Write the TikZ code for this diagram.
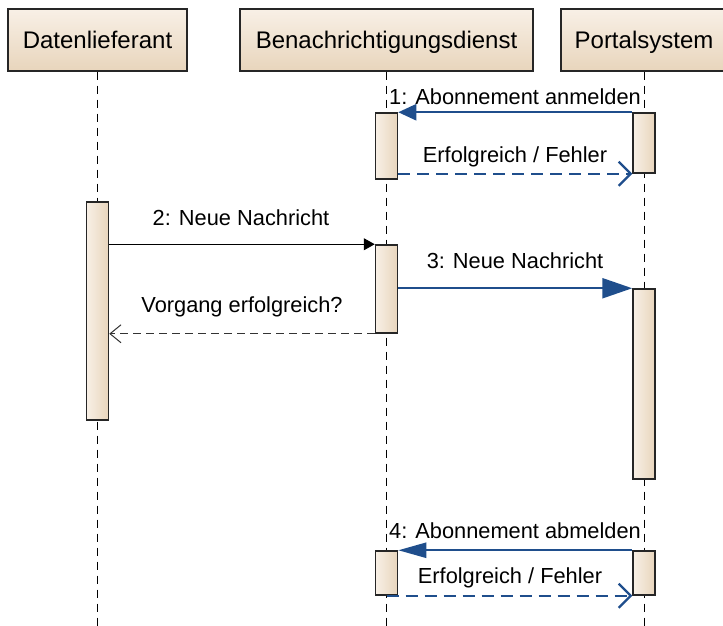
\documentclass[tikz,border=0pt]{standalone}
\usepackage{fontspec}
\setmainfont{Liberation Sans}
\usetikzlibrary{arrows.meta}

\definecolor{msgblue}{HTML}{1F4E8C}
\definecolor{boxlight}{HTML}{F8F0E6}
\definecolor{boxdark}{HTML}{E8D5BC}
\definecolor{boxline}{HTML}{262626}

\begin{document}
\begin{tikzpicture}[x=1pt,y=-1pt,
  actor/.style={draw=boxline, line width=1.3pt, top color=boxlight, bottom color=boxdark,
    minimum height=62pt, inner sep=0pt, font=\fontsize{24}{28}\selectfont,
    text height=17.2pt, text depth=0pt},
  activation/.style={draw=boxline, line width=1.5pt, left color=boxlight, right color=boxdark,
    minimum width=22pt, inner sep=0pt},
  lifeline/.style={line width=1pt, dash pattern=on 8pt off 6pt},
  msglabel/.style={anchor=base, inner sep=0pt, font=\fontsize{21.8}{26}\selectfont},
  callblue/.style={draw=msgblue, line width=2.4pt},
  replyblue/.style={draw=msgblue, line width=2.2pt, dash pattern=on 12pt off 7pt,
    -{Straight Barb[length=12pt,width=24pt,line width=2.2pt]}},
  callblack/.style={line width=1pt, -{Triangle[length=11pt,width=12pt]}},
  replyblack/.style={line width=1pt, draw=black!80, dash pattern=on 8pt off 5pt,
    -{Straight Barb[length=11pt,width=18pt,line width=1pt]}}
]
\useasboundingbox (0,0) rectangle (723,626);
\clip (0,0) rectangle (723,626);
\coordinate (bottom) at (0,626);

% participants
\node[actor, minimum width=179pt] (dl) at (97.5,40) {Datenlieferant};
\node[actor, minimum width=293pt] (bn) at (386.5,40) {Benachrichtigungsdienst};
\node[actor, minimum width=166pt] (ps) at (644,40) {Portalsystem};

% lifelines
\draw[lifeline] (dl.south) -- (dl.south |- bottom);
\draw[lifeline] (bn.south) -- (bn.south |- bottom);
\draw[lifeline] (ps.south) -- (ps.south |- bottom);

% activation bars
\node[activation, minimum height=66pt]  (bn1) at (386.5,146) {};
\node[activation, minimum height=60pt]  (ps1) at (644,143) {};
\node[activation, minimum height=218pt] (dlbar) at (97.5,311) {};
\node[activation, minimum height=88pt]  (bn2) at (386.5,289) {};
\node[activation, minimum height=190pt] (ps2) at (644,384) {};
\node[activation, minimum height=44pt]  (bn3) at (386.5,573) {};
\node[activation, minimum height=44pt]  (ps3) at (644,573) {};

% 1: subscribe
\draw[callblue, -{Triangle[length=18pt,width=16pt]}] (ps1.north west) -- (ps1.north west -| bn1.east);
\node[msglabel] (l1) at (515,104) {1: Abonnement anmelden};
\draw[replyblue] (bn1.east |- ps1.south) -- (ps1.south west);
\node[msglabel] (r1) at (515,162) {Erfolgreich / Fehler};

% 2: new message to the notification service
\draw[callblack] (dlbar.east |- bn2.north) -- (bn2.north west);
\node[msglabel] (l2) at (241,225) {2: Neue Nachricht};
\draw[replyblack] (bn2.south west) -- (dlbar.east |- bn2.south);
\node[msglabel] (r2) at (242,312) {Vorgang erfolgreich?};

% 3: forward to the portal
\draw[callblue, -{Triangle[length=30pt,width=20pt]}] (bn2.east |- ps2.north) -- (ps2.north west);
\node[msglabel] (l3) at (515,268) {3: Neue Nachricht};

% 4: unsubscribe
\draw[callblue, -{Triangle[length=28pt,width=15pt]}] (ps3.north west) -- (bn3.north east);
\node[msglabel] (l4) at (515,538) {4: Abonnement abmelden};
\draw[replyblue] (bn3.south) -- (ps3.south west);
\node[msglabel] (r4) at (510,583) {Erfolgreich / Fehler};
\end{tikzpicture}
\end{document}
